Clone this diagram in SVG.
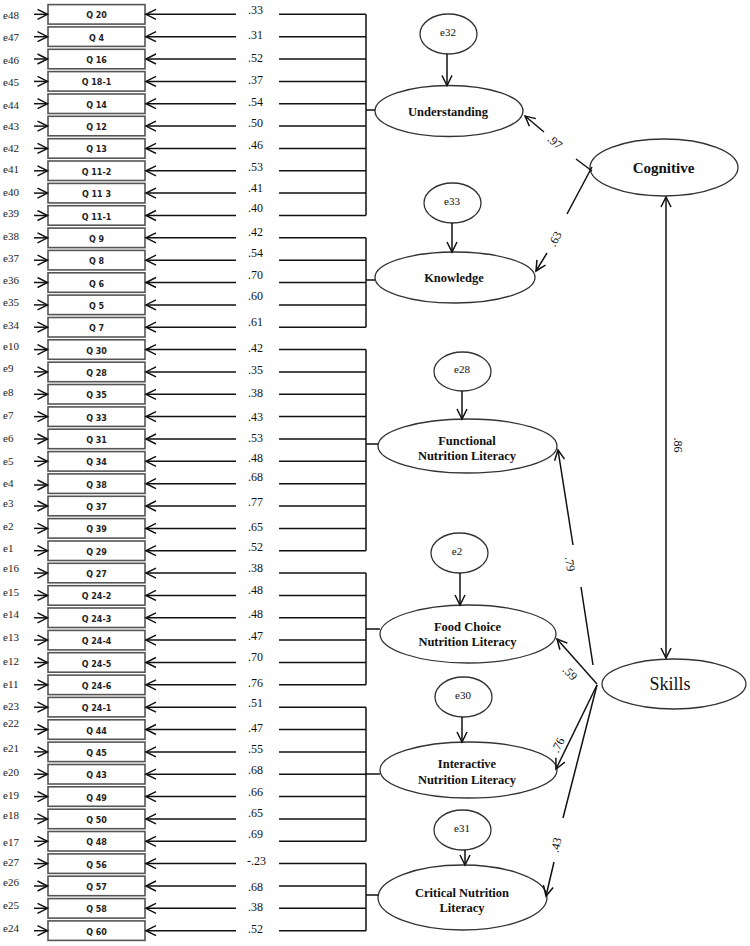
<svg xmlns="http://www.w3.org/2000/svg" width="750" height="946" viewBox="0 0 750 946">
<style>
.bg{fill:#fff}
.box{fill:#fff;stroke:#555;stroke-width:1.6}
.q{font-family:"DejaVu Sans",sans-serif;font-weight:bold;font-size:8px;fill:#222;text-anchor:middle}
.el{font-family:"Liberation Serif",serif;font-size:11px;fill:#222}
.val{font-family:"Liberation Serif",serif;font-size:12px;fill:#111}
.ln{stroke:#111;stroke-width:1.5;fill:none}
.ar{stroke:#111;stroke-width:1.5;fill:none;marker-end:url(#ah)}
.ov{fill:#fff;stroke:#333;stroke-width:1.3}
.lat{font-family:"Liberation Serif",serif;font-weight:bold;font-size:12.5px;fill:#111;text-anchor:middle}
.err{font-family:"Liberation Serif",serif;font-size:11px;fill:#111;text-anchor:middle}
.pv{font-family:"Liberation Serif",serif;font-size:12px;fill:#111;text-anchor:middle}
</style>
<defs>
<marker id="ah" markerUnits="userSpaceOnUse" markerWidth="14" markerHeight="14" refX="11" refY="6" orient="auto">
<path d="M1,1 L11,6 L1,11" fill="none" stroke="#111" stroke-width="1.5"/>
</marker>
<marker id="ahs" markerUnits="userSpaceOnUse" markerWidth="14" markerHeight="14" refX="1" refY="6" orient="auto">
<path d="M11,1 L1,6 L11,11" fill="none" stroke="#111" stroke-width="1.5"/>
</marker>
</defs>
<rect class="bg" x="0" y="0" width="750" height="946"/>

<g id="items">
<g id="q20"><rect class="box" x="48" y="4.6" width="97" height="19.5"/><text class="q" x="96.5" y="18.3">Q 20</text></g>
<g id="q4"><rect class="box" x="48" y="26.9" width="97" height="19.5"/><text class="q" x="96.5" y="40.7">Q 4</text></g>
<g id="q16"><rect class="box" x="48" y="49.3" width="97" height="19.5"/><text class="q" x="96.5" y="63">Q 16</text></g>
<g id="q18-1"><rect class="box" x="48" y="71.6" width="97" height="19.5"/><text class="q" x="96.5" y="85.4">Q 18-1</text></g>
<g id="q14"><rect class="box" x="48" y="94" width="97" height="19.5"/><text class="q" x="96.5" y="107.7">Q 14</text></g>
<g id="q12"><rect class="box" x="48" y="116.3" width="97" height="19.5"/><text class="q" x="96.5" y="130.1">Q 12</text></g>
<g id="q13"><rect class="box" x="48" y="138.7" width="97" height="19.5"/><text class="q" x="96.5" y="152.4">Q 13</text></g>
<g id="q11-2"><rect class="box" x="48" y="161" width="97" height="19.5"/><text class="q" x="96.5" y="174.8">Q 11-2</text></g>
<g id="q11-3"><rect class="box" x="48" y="183.4" width="97" height="19.5"/><text class="q" x="96.5" y="197.1">Q 11  3</text></g>
<g id="q11-1"><rect class="box" x="48" y="205.7" width="97" height="19.5"/><text class="q" x="96.5" y="219.5">Q 11-1</text></g>
<g id="q9"><rect class="box" x="48" y="228.1" width="97" height="19.5"/><text class="q" x="96.5" y="241.8">Q 9</text></g>
<g id="q8"><rect class="box" x="48" y="250.4" width="97" height="19.5"/><text class="q" x="96.5" y="264.2">Q 8</text></g>
<g id="q6"><rect class="box" x="48" y="272.8" width="97" height="19.5"/><text class="q" x="96.5" y="286.5">Q 6</text></g>
<g id="q5"><rect class="box" x="48" y="295.1" width="97" height="19.5"/><text class="q" x="96.5" y="308.9">Q 5</text></g>
<g id="q7"><rect class="box" x="48" y="317.5" width="97" height="19.5"/><text class="q" x="96.5" y="331.2">Q 7</text></g>
<g id="q30"><rect class="box" x="48" y="339.8" width="97" height="19.5"/><text class="q" x="96.5" y="353.6">Q 30</text></g>
<g id="q28"><rect class="box" x="48" y="362.2" width="97" height="19.5"/><text class="q" x="96.5" y="375.9">Q 28</text></g>
<g id="q35"><rect class="box" x="48" y="384.5" width="97" height="19.5"/><text class="q" x="96.5" y="398.3">Q 35</text></g>
<g id="q33"><rect class="box" x="48" y="406.9" width="97" height="19.5"/><text class="q" x="96.5" y="420.6">Q 33</text></g>
<g id="q31"><rect class="box" x="48" y="429.2" width="97" height="19.5"/><text class="q" x="96.5" y="443">Q 31</text></g>
<g id="q34"><rect class="box" x="48" y="451.6" width="97" height="19.5"/><text class="q" x="96.5" y="465.3">Q 34</text></g>
<g id="q38"><rect class="box" x="48" y="473.9" width="97" height="19.5"/><text class="q" x="96.5" y="487.7">Q 38</text></g>
<g id="q37"><rect class="box" x="48" y="496.3" width="97" height="19.5"/><text class="q" x="96.5" y="510">Q 37</text></g>
<g id="q39"><rect class="box" x="48" y="518.6" width="97" height="19.5"/><text class="q" x="96.5" y="532.4">Q 39</text></g>
<g id="q29"><rect class="box" x="48" y="541" width="97" height="19.5"/><text class="q" x="96.5" y="554.7">Q 29</text></g>
<g id="q27"><rect class="box" x="48" y="563.3" width="97" height="19.5"/><text class="q" x="96.5" y="577.1">Q 27</text></g>
<g id="q24-2"><rect class="box" x="48" y="585.7" width="97" height="19.5"/><text class="q" x="96.5" y="599.4">Q 24-2</text></g>
<g id="q24-3"><rect class="box" x="48" y="608" width="97" height="19.5"/><text class="q" x="96.5" y="621.8">Q 24-3</text></g>
<g id="q24-4"><rect class="box" x="48" y="630.4" width="97" height="19.5"/><text class="q" x="96.5" y="644.1">Q 24-4</text></g>
<g id="q24-5"><rect class="box" x="48" y="652.7" width="97" height="19.5"/><text class="q" x="96.5" y="666.5">Q 24-5</text></g>
<g id="q24-6"><rect class="box" x="48" y="675.1" width="97" height="19.5"/><text class="q" x="96.5" y="688.8">Q 24-6</text></g>
<g id="q24-1"><rect class="box" x="48" y="697.4" width="97" height="19.5"/><text class="q" x="96.5" y="711.2">Q 24-1</text></g>
<g id="q44"><rect class="box" x="48" y="719.8" width="97" height="19.5"/><text class="q" x="96.5" y="733.5">Q 44</text></g>
<g id="q45"><rect class="box" x="48" y="742.1" width="97" height="19.5"/><text class="q" x="96.5" y="755.9">Q 45</text></g>
<g id="q43"><rect class="box" x="48" y="764.5" width="97" height="19.5"/><text class="q" x="96.5" y="778.2">Q 43</text></g>
<g id="q49"><rect class="box" x="48" y="786.8" width="97" height="19.5"/><text class="q" x="96.5" y="800.6">Q 49</text></g>
<g id="q50"><rect class="box" x="48" y="809.2" width="97" height="19.5"/><text class="q" x="96.5" y="822.9">Q 50</text></g>
<g id="q48"><rect class="box" x="48" y="831.5" width="97" height="19.5"/><text class="q" x="96.5" y="845.3">Q 48</text></g>
<g id="q56"><rect class="box" x="48" y="853.9" width="97" height="19.5"/><text class="q" x="96.5" y="867.6">Q 56</text></g>
<g id="q57"><rect class="box" x="48" y="876.2" width="97" height="19.5"/><text class="q" x="96.5" y="890">Q 57</text></g>
<g id="q58"><rect class="box" x="48" y="898.6" width="97" height="19.5"/><text class="q" x="96.5" y="912.3">Q 58</text></g>
<g id="q60"><rect class="box" x="48" y="920.9" width="97" height="19.5"/><text class="q" x="96.5" y="934.7">Q 60</text></g>
</g>

<g id="item-errors">
<g id="e48"><text class="el" x="3" y="19">e48</text></g>
<g id="e47"><text class="el" x="3" y="41">e47</text></g>
<g id="e46"><text class="el" x="3" y="64">e46</text></g>
<g id="e45"><text class="el" x="3" y="86">e45</text></g>
<g id="e44"><text class="el" x="3" y="109">e44</text></g>
<g id="e43"><text class="el" x="3" y="130">e43</text></g>
<g id="e42"><text class="el" x="3" y="152">e42</text></g>
<g id="e41"><text class="el" x="3" y="173">e41</text></g>
<g id="e40"><text class="el" x="3" y="196">e40</text></g>
<g id="e39"><text class="el" x="3" y="217">e39</text></g>
<g id="e38"><text class="el" x="3" y="240">e38</text></g>
<g id="e37"><text class="el" x="3" y="262">e37</text></g>
<g id="e36"><text class="el" x="3" y="284">e36</text></g>
<g id="e35"><text class="el" x="3" y="306">e35</text></g>
<g id="e34"><text class="el" x="3" y="329">e34</text></g>
<g id="e10"><text class="el" x="3" y="350">e10</text></g>
<g id="e9"><text class="el" x="3" y="372">e9</text></g>
<g id="e8"><text class="el" x="3" y="396">e8</text></g>
<g id="e7"><text class="el" x="3" y="419">e7</text></g>
<g id="e6"><text class="el" x="3" y="442">e6</text></g>
<g id="e5"><text class="el" x="3" y="465">e5</text></g>
<g id="e4"><text class="el" x="3" y="487">e4</text></g>
<g id="e3"><text class="el" x="3" y="507">e3</text></g>
<g id="e2-item"><text class="el" x="3" y="530">e2</text></g>
<g id="e1"><text class="el" x="3" y="552">e1</text></g>
<g id="e16"><text class="el" x="3" y="572">e16</text></g>
<g id="e15"><text class="el" x="3" y="596">e15</text></g>
<g id="e14"><text class="el" x="3" y="618">e14</text></g>
<g id="e13"><text class="el" x="3" y="641">e13</text></g>
<g id="e12"><text class="el" x="3" y="665">e12</text></g>
<g id="e11"><text class="el" x="3" y="688">e11</text></g>
<g id="e23"><text class="el" x="3" y="710">e23</text></g>
<g id="e22"><text class="el" x="3" y="727">e22</text></g>
<g id="e21"><text class="el" x="3" y="752">e21</text></g>
<g id="e20"><text class="el" x="3" y="776">e20</text></g>
<g id="e19"><text class="el" x="3" y="799">e19</text></g>
<g id="e18"><text class="el" x="3" y="819">e18</text></g>
<g id="e17"><text class="el" x="3" y="846">e17</text></g>
<g id="e27"><text class="el" x="3" y="866">e27</text></g>
<g id="e26"><text class="el" x="3" y="886">e26</text></g>
<g id="e25"><text class="el" x="3" y="909">e25</text></g>
<g id="e24"><text class="el" x="3" y="932">e24</text></g>
</g>

<g id="latents">
<g id="understanding"><ellipse class="ov" cx="449" cy="111" rx="74" ry="25.5"/><text class="lat" x="448" y="115.5">Understanding</text></g>
<g id="knowledge"><ellipse class="ov" cx="455" cy="277.5" rx="80" ry="25.5"/><text class="lat" x="454" y="282">Knowledge</text></g>
<g id="cognitive"><ellipse class="ov" cx="664" cy="167.5" rx="74" ry="28.5"/><text class="lat" style="font-size:15px" x="663.5" y="173">Cognitive</text></g>
<g id="skills"><ellipse class="ov" cx="674" cy="684" rx="72" ry="25"/><text class="lat" style="font-size:18px;font-weight:normal" x="670" y="690">Skills</text></g>
<g id="functional"><ellipse class="ov" cx="467.5" cy="446" rx="89.5" ry="27"/><text class="lat" x="467" y="444.5">Functional</text><text class="lat" x="467" y="460">Nutrition Literacy</text></g>
<g id="foodchoice"><ellipse class="ov" cx="468" cy="634" rx="88" ry="29"/><text class="lat" x="467.5" y="630.5">Food Choice</text><text class="lat" x="467.5" y="646">Nutrition Literacy</text></g>
<g id="interactive"><ellipse class="ov" cx="468.5" cy="770" rx="88.5" ry="28"/><text class="lat" x="467" y="767.5">Interactive</text><text class="lat" x="467" y="784">Nutrition Literacy</text></g>
<g id="critical"><ellipse class="ov" cx="462.5" cy="897.5" rx="84.5" ry="32.5"/><text class="lat" x="462" y="897">Critical Nutrition</text><text class="lat" x="462" y="911.5">Literacy</text></g>
</g>

<g id="latent-errors">
<g id="e32"><ellipse class="ov" cx="448.5" cy="34" rx="28.5" ry="20"/><text class="err" x="448" y="36">e32</text></g>
<g id="e33"><ellipse class="ov" cx="452.5" cy="203" rx="28.5" ry="20"/><text class="err" x="452" y="205">e33</text></g>
<g id="e28"><ellipse class="ov" cx="462.5" cy="371.5" rx="28.5" ry="19.5"/><text class="err" x="462" y="373">e28</text></g>
<g id="e2-latent"><ellipse class="ov" cx="459.5" cy="553" rx="28.5" ry="20"/><text class="err" x="457" y="555">e2</text></g>
<g id="e30"><ellipse class="ov" cx="463.5" cy="697" rx="28.5" ry="20"/><text class="err" x="463" y="699">e30</text></g>
<g id="e31"><ellipse class="ov" cx="462.5" cy="830" rx="28.5" ry="20"/><text class="err" x="462" y="832">e31</text></g>
</g>

<g id="connectors">
<g id="error-arrows">
<line class="ar" x1="34" y1="14.3" x2="47.5" y2="14.3"/>
<line class="ar" x1="34" y1="36.7" x2="47.5" y2="36.7"/>
<line class="ar" x1="34" y1="59" x2="47.5" y2="59"/>
<line class="ar" x1="34" y1="81.4" x2="47.5" y2="81.4"/>
<line class="ar" x1="34" y1="103.7" x2="47.5" y2="103.7"/>
<line class="ar" x1="34" y1="126.1" x2="47.5" y2="126.1"/>
<line class="ar" x1="34" y1="148.4" x2="47.5" y2="148.4"/>
<line class="ar" x1="34" y1="170.8" x2="47.5" y2="170.8"/>
<line class="ar" x1="34" y1="193.1" x2="47.5" y2="193.1"/>
<line class="ar" x1="34" y1="215.5" x2="47.5" y2="215.5"/>
<line class="ar" x1="34" y1="237.8" x2="47.5" y2="237.8"/>
<line class="ar" x1="34" y1="260.2" x2="47.5" y2="260.2"/>
<line class="ar" x1="34" y1="282.5" x2="47.5" y2="282.5"/>
<line class="ar" x1="34" y1="304.9" x2="47.5" y2="304.9"/>
<line class="ar" x1="34" y1="327.2" x2="47.5" y2="327.2"/>
<line class="ar" x1="34" y1="349.6" x2="47.5" y2="349.6"/>
<line class="ar" x1="34" y1="371.9" x2="47.5" y2="371.9"/>
<line class="ar" x1="34" y1="394.3" x2="47.5" y2="394.3"/>
<line class="ar" x1="34" y1="416.6" x2="47.5" y2="416.6"/>
<line class="ar" x1="34" y1="439" x2="47.5" y2="439"/>
<line class="ar" x1="34" y1="461.3" x2="47.5" y2="461.3"/>
<line class="ar" x1="34" y1="485" x2="47.5" y2="485"/>
<line class="ar" x1="34" y1="506" x2="47.5" y2="506"/>
<line class="ar" x1="34" y1="528.4" x2="47.5" y2="528.4"/>
<line class="ar" x1="34" y1="550.7" x2="47.5" y2="550.7"/>
<line class="ar" x1="34" y1="573.1" x2="47.5" y2="573.1"/>
<line class="ar" x1="34" y1="595.4" x2="47.5" y2="595.4"/>
<line class="ar" x1="34" y1="617.8" x2="47.5" y2="617.8"/>
<line class="ar" x1="34" y1="640.1" x2="47.5" y2="640.1"/>
<line class="ar" x1="34" y1="662.5" x2="47.5" y2="662.5"/>
<line class="ar" x1="34" y1="684.8" x2="47.5" y2="684.8"/>
<line class="ar" x1="34" y1="707.2" x2="47.5" y2="707.2"/>
<line class="ar" x1="34" y1="729.5" x2="47.5" y2="729.5"/>
<line class="ar" x1="34" y1="751.9" x2="47.5" y2="751.9"/>
<line class="ar" x1="34" y1="774.2" x2="47.5" y2="774.2"/>
<line class="ar" x1="34" y1="796.6" x2="47.5" y2="796.6"/>
<line class="ar" x1="34" y1="818.9" x2="47.5" y2="818.9"/>
<line class="ar" x1="34" y1="841.3" x2="47.5" y2="841.3"/>
<line class="ar" x1="34" y1="863.6" x2="47.5" y2="863.6"/>
<line class="ar" x1="34" y1="886" x2="47.5" y2="886"/>
<line class="ar" x1="34" y1="908.3" x2="47.5" y2="908.3"/>
<line class="ar" x1="34" y1="930.7" x2="47.5" y2="930.7"/>
</g>
<g id="loading-arrows">
<line class="ar" x1="236" y1="14.3" x2="146" y2="14.3"/>
<line class="ar" x1="236" y1="36.7" x2="146" y2="36.7"/>
<line class="ar" x1="236" y1="59" x2="146" y2="59"/>
<line class="ar" x1="236" y1="81.4" x2="146" y2="81.4"/>
<line class="ar" x1="236" y1="103.7" x2="146" y2="103.7"/>
<line class="ar" x1="236" y1="126.1" x2="146" y2="126.1"/>
<line class="ar" x1="236" y1="148.4" x2="146" y2="148.4"/>
<line class="ar" x1="236" y1="170.8" x2="146" y2="170.8"/>
<line class="ar" x1="236" y1="193.1" x2="146" y2="193.1"/>
<line class="ar" x1="236" y1="215.5" x2="146" y2="215.5"/>
<line class="ar" x1="236" y1="237.8" x2="146" y2="237.8"/>
<line class="ar" x1="236" y1="260.2" x2="146" y2="260.2"/>
<line class="ar" x1="236" y1="282.5" x2="146" y2="282.5"/>
<line class="ar" x1="236" y1="304.9" x2="146" y2="304.9"/>
<line class="ar" x1="236" y1="327.2" x2="146" y2="327.2"/>
<line class="ar" x1="236" y1="349.6" x2="146" y2="349.6"/>
<line class="ar" x1="236" y1="371.9" x2="146" y2="371.9"/>
<line class="ar" x1="236" y1="394.3" x2="146" y2="394.3"/>
<line class="ar" x1="236" y1="416.6" x2="146" y2="416.6"/>
<line class="ar" x1="236" y1="439" x2="146" y2="439"/>
<line class="ar" x1="236" y1="461.3" x2="146" y2="461.3"/>
<line class="ar" x1="236" y1="483.7" x2="146" y2="483.7"/>
<line class="ar" x1="236" y1="506" x2="146" y2="506"/>
<line class="ar" x1="236" y1="528.4" x2="146" y2="528.4"/>
<line class="ar" x1="236" y1="550.7" x2="146" y2="550.7"/>
<line class="ar" x1="236" y1="573.1" x2="146" y2="573.1"/>
<line class="ar" x1="236" y1="595.4" x2="146" y2="595.4"/>
<line class="ar" x1="236" y1="617.8" x2="146" y2="617.8"/>
<line class="ar" x1="236" y1="640.1" x2="146" y2="640.1"/>
<line class="ar" x1="236" y1="662.5" x2="146" y2="662.5"/>
<line class="ar" x1="236" y1="684.8" x2="146" y2="684.8"/>
<line class="ar" x1="236" y1="707.2" x2="146" y2="707.2"/>
<line class="ar" x1="236" y1="729.5" x2="146" y2="729.5"/>
<line class="ar" x1="236" y1="751.9" x2="146" y2="751.9"/>
<line class="ar" x1="236" y1="774.2" x2="146" y2="774.2"/>
<line class="ar" x1="236" y1="796.6" x2="146" y2="796.6"/>
<line class="ar" x1="236" y1="818.9" x2="146" y2="818.9"/>
<line class="ar" x1="236" y1="841.3" x2="146" y2="841.3"/>
<line class="ar" x1="236" y1="863.6" x2="146" y2="863.6"/>
<line class="ar" x1="236" y1="886" x2="146" y2="886"/>
<line class="ar" x1="236" y1="908.3" x2="146" y2="908.3"/>
<line class="ar" x1="236" y1="930.7" x2="146" y2="930.7"/>
</g>
<g id="brackets">
<path class="ln" d="M279,14.3H366M279,36.7H366M279,59H366M279,81.4H366M279,103.7H366M279,126.1H366M279,148.4H366M279,170.8H366M279,193.1H366M279,215.5H366M366,14.3V215.5M366,110H375"/>
<path class="ln" d="M279,237.8H366M279,260.2H366M279,282.5H366M279,304.9H366M279,327.2H366M366,237.8V327.2M366,280H375"/>
<path class="ln" d="M279,349.6H366M279,371.9H366M279,394.3H366M279,416.6H366M279,439H366M279,461.3H366M279,483.7H366M279,506H366M279,528.4H366M279,550.7H366M366,349.6V550.7M366,444H378"/>
<path class="ln" d="M279,573.1H366M279,595.4H366M279,617.8H366M279,640.1H366M279,662.5H366M279,684.8H366M366,573.1V684.8M366,629H380"/>
<path class="ln" d="M279,707.2H366M279,729.5H366M279,751.9H366M279,774.2H366M279,796.6H366M279,818.9H366M279,841.3H366M366,707.2V841.3M366,774H380"/>
<path class="ln" d="M279,863.6H366M279,886H366M279,908.3H366M279,930.7H366M366,863.6V930.7M366,895H378"/>
</g>
<g id="loading-values">
<text class="val" x="248" y="14">.33</text>
<text class="val" x="248" y="39">.31</text>
<text class="val" x="248" y="62">.52</text>
<text class="val" x="248" y="84">.37</text>
<text class="val" x="248" y="106">.54</text>
<text class="val" x="248" y="127">.50</text>
<text class="val" x="248" y="149">.46</text>
<text class="val" x="248" y="171">.53</text>
<text class="val" x="248" y="192">.41</text>
<text class="val" x="248" y="212">.40</text>
<text class="val" x="248" y="236">.42</text>
<text class="val" x="248" y="257">.54</text>
<text class="val" x="248" y="279">.70</text>
<text class="val" x="248" y="300">.60</text>
<text class="val" x="248" y="326">.61</text>
<text class="val" x="248" y="352">.42</text>
<text class="val" x="248" y="374">.35</text>
<text class="val" x="248" y="397">.38</text>
<text class="val" x="248" y="421">.43</text>
<text class="val" x="248" y="442">.53</text>
<text class="val" x="248" y="462">.48</text>
<text class="val" x="248" y="481">.68</text>
<text class="val" x="248" y="506">.77</text>
<text class="val" x="248" y="531">.65</text>
<text class="val" x="248" y="551">.52</text>
<text class="val" x="248" y="572">.38</text>
<text class="val" x="248" y="594">.48</text>
<text class="val" x="248" y="618">.48</text>
<text class="val" x="248" y="640">.47</text>
<text class="val" x="248" y="661">.70</text>
<text class="val" x="248" y="687">.76</text>
<text class="val" x="248" y="707">.51</text>
<text class="val" x="248" y="732">.47</text>
<text class="val" x="248" y="753">.55</text>
<text class="val" x="248" y="774">.68</text>
<text class="val" x="248" y="796">.66</text>
<text class="val" x="248" y="817">.65</text>
<text class="val" x="248" y="838">.69</text>
<text class="val" x="247" y="865">-.23</text>
<text class="val" x="248" y="891">.68</text>
<text class="val" x="248" y="911">.38</text>
<text class="val" x="248" y="933">.52</text>
</g>
<g id="disturbance-arrows">
<line class="ar" x1="447" y1="54" x2="447" y2="85.5"/>
<line class="ar" x1="452" y1="223" x2="452" y2="252"/>
<line class="ar" x1="462" y1="391" x2="462" y2="419"/>
<line class="ar" x1="460" y1="573" x2="460" y2="605"/>
<line class="ar" x1="462" y1="717" x2="462" y2="742"/>
<line class="ar" x1="465" y1="850" x2="465" y2="865"/>
</g>
<g id="structural">
<path class="ar" d="M592,171 L576,159 M544,132 L525,116"/>
<text class="pv" transform="translate(555,142) rotate(40)" x="0" y="4">.97</text>
<path class="ar" d="M592,167 L567,214 M547,253 L536,271"/>
<text class="pv" transform="translate(555,239) rotate(-62)" x="0" y="4">.63</text>
<line class="ln" x1="666" y1="197" x2="666" y2="658" marker-start="url(#ahs)" marker-end="url(#ah)"/>
<text class="pv" transform="translate(678,445) rotate(90)" x="0" y="4">.86</text>
<path class="ar" d="M593,665 L581,587 M573,545 L558,450"/>
<text class="pv" transform="translate(570,564) rotate(81)" x="0" y="4">.79</text>
<path class="ar" d="M597,684 L557,639"/>
<text class="pv" transform="translate(570,673) rotate(45)" x="0" y="4">.59</text>
<path class="ar" d="M597,685 L556,769"/>
<text class="pv" transform="translate(558,745) rotate(-63)" x="0" y="4">.76</text>
<path class="ar" d="M597,685 L563,818 M554,862 L546,896"/>
<text class="pv" transform="translate(556,845) rotate(-77)" x="0" y="4">.43</text>
</g>
</g>
</svg>
